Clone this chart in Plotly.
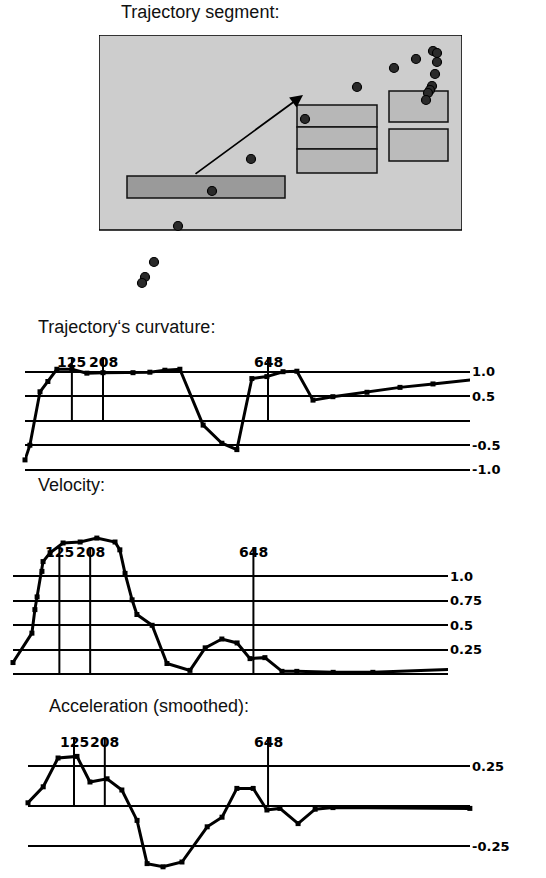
import plotly.graph_objects as go

# ---------------- data ----------------
# Trajectory points (screen-like coordinates, y grows downward)
traj_x = [79, 113, 152, 206, 258, 295, 317, 334, 338, 338, 336, 333, 331, 329, 327, 55, 46, 43]
traj_y = [191, 156, 124, 84, 52, 33, 24, 16, 18, 27, 39, 51, 55, 58, 65, 227, 242, 248]

# Areas drawn in the trajectory view
area_x0 = [28, 198, 198, 198, 290, 290]
area_x1 = [186, 278, 278, 278, 349, 349]
area_y0 = [141, 70, 92, 114, 56, 94]
area_y1 = [163, 92, 114, 138, 87, 126]
view_w, view_h = 363, 195

# Direction arrow (tail -> head)
arrow_tail = (95, 140)
arrow_head = (204, 60)

# Curvature over time (ms)
curv_t = [0, 13, 40, 61, 85, 125, 165, 208, 288, 333, 373, 413, 475, 525, 565, 605, 645, 688, 725, 768, 821, 912, 1000, 1088, 1187]
curv_v = [-0.80, -0.50, 0.59, 0.80, 1.05, 1.05, 0.97, 0.98, 0.98, 0.99, 1.03, 1.05, -0.09, -0.46, -0.59, 0.86, 0.90, 1.00, 1.01, 0.42, 0.49, 0.58, 0.68, 0.75, 0.83]

# Velocity over time (ms)
vel_t = [0, 51, 59, 65, 78, 81, 100, 135, 181, 226, 275, 288, 302, 321, 334, 375, 415, 477, 518, 563, 604, 639, 679, 725, 765, 863, 970, 1178]
vel_v = [0.12, 0.42, 0.66, 0.79, 1.05, 1.15, 1.24, 1.34, 1.35, 1.39, 1.35, 1.27, 1.03, 0.76, 0.61, 0.50, 0.11, 0.04, 0.27, 0.36, 0.32, 0.16, 0.17, 0.03, 0.03, 0.02, 0.02, 0.05]

# Acceleration (smoothed) over time (ms)
acc_t = [1, 42, 82, 133, 168, 214, 254, 295, 322, 365, 416, 484, 524, 564, 608, 645, 680, 729, 775, 823, 1192]
acc_v = [0.02, 0.12, 0.30, 0.31, 0.15, 0.17, 0.10, -0.09, -0.36, -0.38, -0.35, -0.13, -0.07, 0.11, 0.11, -0.025, -0.015, -0.11, -0.02, -0.01, -0.015]

# Event markers (ms)
event_t = [125, 208, 648]
event_lbl = ["125", "208", "648"]

# Tick labels
curv_ticks = [1.0, 0.5, 0.0, -0.5, -1.0]
curv_ticktext = ["1.0", "0.5", "", "-0.5", "-1.0"]
vel_ticks = [1.0, 0.75, 0.5, 0.25, 0.0]
vel_ticktext = ["1.0", "0.75", "0.5", "0.25", ""]
acc_ticks = [0.25, 0.0, -0.25]
acc_ticktext = ["0.25", "", "-0.25"]

titles = ["Trajectory segment:", "Trajectory\u2018s curvature:", "Velocity:", "Acceleration (smoothed):"]

# ---------------- layout helpers ----------------
W, H = 546, 878
def fx(px):
    return px / W
def fy(py):
    return 1 - py / H

TICKFONT = dict(family="DejaVu Sans", size=13, color="black", weight="bold")
LBLFONT = dict(family="DejaVu Sans", size=14, color="black", weight="bold")
TITLEFONT = dict(family="Liberation Sans", size=18, color="#111111")

fig = go.Figure()

panels = {
    "1": dict(x0=25, x1=470, s=0.375, t0=0.0, top=352, bot=478, z=420.7, u=49),
    "2": dict(x0=13, x1=448, s=0.371, t0=0.0, top=530, bot=680, z=674.3, u=98),
    "3": dict(x0=28, x1=470, s=0.371, t0=1.0, top=730, bot=872, z=806, u=160),
}
ticks = {"1": (curv_ticks, curv_ticktext), "2": (vel_ticks, vel_ticktext), "3": (acc_ticks, acc_ticktext)}
series = {"1": (curv_t, curv_v), "2": (vel_t, vel_v), "3": (acc_t, acc_v)}
evt_px = {"1": (362, 357), "2": (552, 547), "3": (742, 737)}

layout = dict(
    width=W, height=H, margin=dict(l=0, r=0, t=0, b=0),
    paper_bgcolor="white", plot_bgcolor="rgba(0,0,0,0)", showlegend=False,
)

annotations = []
shapes = []

for k, p in panels.items():
    xa = "xaxis" if k == "1" else f"xaxis{k}"
    ya = "yaxis" if k == "1" else f"yaxis{k}"
    xr = "x" if k == "1" else f"x{k}"
    yr = "y" if k == "1" else f"y{k}"
    t_end = p["t0"] + (p["x1"] - p["x0"]) / p["s"]
    v_top = (p["z"] - p["top"]) / p["u"]
    v_bot = (p["z"] - p["bot"]) / p["u"]
    layout[xa] = dict(domain=[fx(p["x0"]), fx(p["x1"])], range=[p["t0"], t_end],
                      visible=False, anchor=yr)
    tv, tt = ticks[k]
    layout[ya] = dict(domain=[fy(p["bot"]), fy(p["top"])], range=[v_bot, v_top],
                      anchor=xr, side="right", tickvals=tv, ticktext=tt,
                      showgrid=True, gridcolor="black", gridwidth=1.8,
                      zeroline=False, showline=False, ticks="",
                      tickfont=TICKFONT, ticklabelstandoff=1)
    lbl_py, top_py = evt_px[k]
    v_line_top = (p["z"] - top_py) / p["u"]
    v_lbl = (p["z"] - lbl_py) / p["u"]
    for t, lab in zip(event_t, event_lbl):
        fig.add_trace(go.Scatter(x=[t, t], y=[0, v_line_top], xaxis=xr, yaxis=yr,
                                 mode="lines", line=dict(color="black", width=2),
                                 hoverinfo="skip", cliponaxis=False))
        annotations.append(dict(x=t, y=v_lbl, xref=xr, yref=yr, text=lab, showarrow=False,
                                font=LBLFONT, xanchor="center", yanchor="middle", borderpad=0))
    st, sv = series[k]
    fig.add_trace(go.Scatter(x=st, y=sv, xaxis=xr, yaxis=yr, mode="lines+markers",
                             line=dict(color="black", width=3),
                             marker=dict(symbol="square", size=5, color="black"),
                             cliponaxis=False))

# ---------------- trajectory view ----------------
layout["xaxis4"] = dict(domain=[fx(99), fx(462)], range=[0, 363], visible=False, anchor="y4")
layout["yaxis4"] = dict(domain=[fy(290), fy(35)], range=[255, 0], visible=False, anchor="x4")

shapes.append(dict(type="rect", xref="x4", yref="y4", x0=0, x1=view_w, y0=0, y1=view_h,
                   fillcolor="#cdcdcd", line=dict(color="black", width=1.5), layer="below"))
area_fill = ["#9a9a9a", "#b7b7b7", "#b7b7b7", "#b7b7b7", "#bbbbbb", "#bbbbbb"]
for i in range(len(area_x0)):
    shapes.append(dict(type="rect", xref="x4", yref="y4", x0=area_x0[i], x1=area_x1[i],
                       y0=area_y0[i], y1=area_y1[i], fillcolor=area_fill[i],
                       line=dict(color="#111111", width=1.5), layer="below"))

annotations.append(dict(x=arrow_head[0], y=arrow_head[1], ax=arrow_tail[0], ay=arrow_tail[1],
                        xref="x4", yref="y4", axref="x4", ayref="y4", text="",
                        showarrow=True, arrowhead=2, arrowsize=1.4, arrowwidth=1.8,
                        arrowcolor="black"))

fig.add_trace(go.Scatter(x=traj_x, y=traj_y, xaxis="x4", yaxis="y4", mode="markers",
                         marker=dict(size=9, color="#2a2a2a", line=dict(color="black", width=1.2)),
                         cliponaxis=False))

# ---------------- titles ----------------
title_pos = [(200, 12, "center"), (37, 327, "left"), (37, 485, "left"), (48, 706, "left")]
for txt, (px, py, anc) in zip(titles, title_pos):
    annotations.append(dict(x=fx(px), y=fy(py), xref="paper", yref="paper", text=txt,
                            showarrow=False, font=TITLEFONT, xanchor=anc, yanchor="middle",
                            borderpad=0))

layout["annotations"] = annotations
layout["shapes"] = shapes
fig.update_layout(**layout)
fig.write_html("out.html", config={"displayModeBar": False},
               post_script="document.body.style.margin='0';")
